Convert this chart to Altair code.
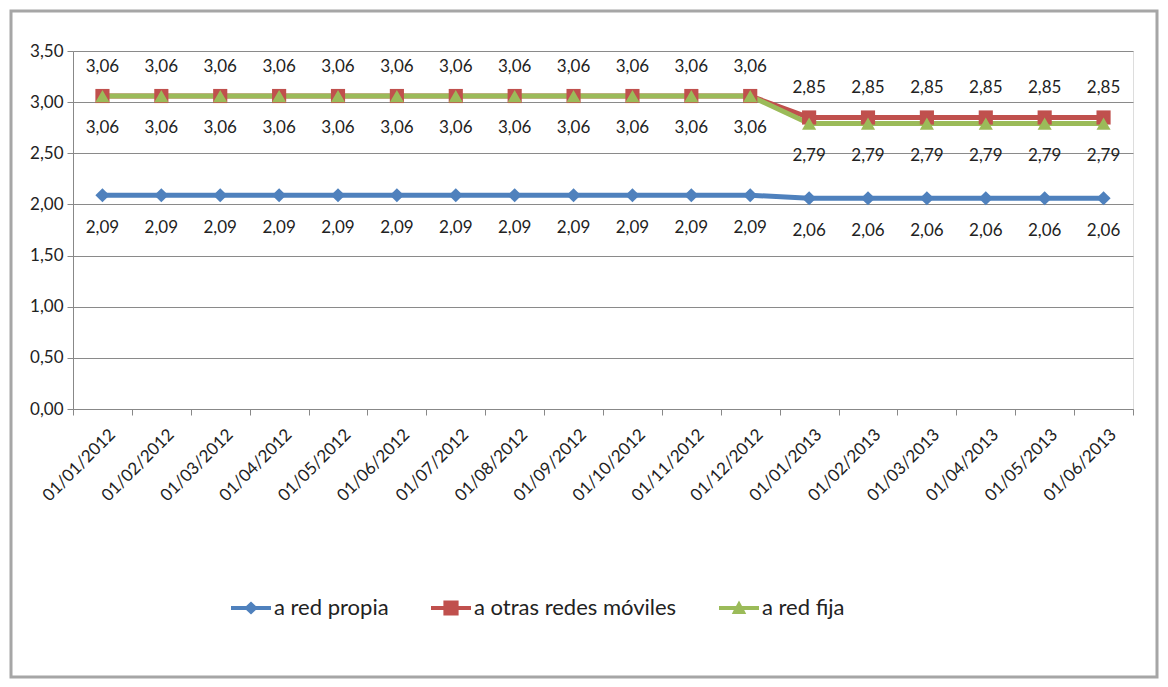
import altair as alt
import pandas as pd

fechas = ["01/01/2012", "01/02/2012", "01/03/2012", "01/04/2012", "01/05/2012", "01/06/2012",
          "01/07/2012", "01/08/2012", "01/09/2012", "01/10/2012", "01/11/2012", "01/12/2012",
          "01/01/2013", "01/02/2013", "01/03/2013", "01/04/2013", "01/05/2013", "01/06/2013"]
red_propia = [2.09, 2.09, 2.09, 2.09, 2.09, 2.09, 2.09, 2.09, 2.09, 2.09, 2.09, 2.09,
              2.06, 2.06, 2.06, 2.06, 2.06, 2.06]
otras_redes = [3.06, 3.06, 3.06, 3.06, 3.06, 3.06, 3.06, 3.06, 3.06, 3.06, 3.06, 3.06,
               2.85, 2.85, 2.85, 2.85, 2.85, 2.85]
red_fija = [3.06, 3.06, 3.06, 3.06, 3.06, 3.06, 3.06, 3.06, 3.06, 3.06, 3.06, 3.06,
            2.79, 2.79, 2.79, 2.79, 2.79, 2.79]
series = ["a red propia", "a otras redes móviles", "a red fija"]
colores = ["#4F81BD", "#C0504D", "#9BBB59"]
formas = ["diamond", "square", "triangle-up"]

# legend symbols: line segment with marker (unit coordinates)
legend_paths = [
    "M-1,-0.1L-0.24,-0.1L0,-0.33L0.24,-0.1L1,-0.1L1,0.1L0.24,0.1L0,0.33L-0.24,0.1L-1,0.1Z",
    "M-1,-0.1L-0.38,-0.1L-0.38,-0.38L0.38,-0.38L0.38,-0.1L1,-0.1L1,0.1L0.38,0.1L0.38,0.38L-0.38,0.38L-0.38,0.1L-1,0.1Z",
    "M-1,-0.1L-0.15,-0.1L0,-0.38L0.15,-0.1L1,-0.1L1,0.1L0.26,0.1L0.36,0.3L-0.36,0.3L-0.26,0.1L-1,0.1Z",
]

rows = []
for s, vals in zip(series, [red_propia, otras_redes, red_fija]):
    for f, v in zip(fechas, vals):
        rows.append({"fecha": f, "valor": v, "serie": s,
                     "etiqueta": f"{v:.2f}".replace(".", ",")})
df = pd.DataFrame(rows)

FONT = "Lato"
W, H = 1060, 358

x_enc = alt.X("fecha:N", sort=fechas, title=None,
              scale=alt.Scale(paddingInner=0, paddingOuter=0),
              axis=alt.Axis(labelAngle=-45, labelFontSize=17, labelFont=FONT, labelColor="#222",
                            tickBand="extent", tickSize=6, tickColor="#888", domainColor="#888",
                            labelPadding=11, labelOffset=4, grid=False))
y_enc = alt.Y("valor:Q", title=None,
              scale=alt.Scale(domain=[0, 3.5], nice=False),
              axis=alt.Axis(values=[0, 0.5, 1, 1.5, 2, 2.5, 3, 3.5],
                            labelExpr="replace(format(datum.value, '.2f'), '.', ',')",
                            labelFontSize=17, labelFont=FONT, labelColor="#222",
                            grid=True, gridColor="#8a8a8a", gridWidth=1,
                            tickColor="#888", domainColor="#888", tickSize=6, labelPadding=4))

legend = alt.Legend(title=None, orient="none", direction="horizontal",
                    legendX=158, legendY=537, labelFontSize=22, labelFont=FONT,
                    labelColor="#222", symbolSize=1600, columnPadding=42,
                    symbolStrokeWidth=0, labelOffset=3, labelLimit=0)
color_scale = alt.Scale(domain=series, range=colores)

base = alt.Chart(df)

frame = alt.Chart(pd.DataFrame({"k": [0]})).mark_rect(
    fillOpacity=0, stroke="#a6a6a6", strokeWidth=3
).encode(x=alt.value(-62), x2=alt.value(W + 24), y=alt.value(-40), y2=alt.value(H + 268))

lines_layers = []
for s in series:
    lines_layers.append(base.transform_filter(alt.datum.serie == s).mark_line(strokeWidth=5).encode(
        x=x_enc, y=y_enc,
        color=alt.Color("serie:N", scale=color_scale, legend=legend)))

point_layers = []
for s, f in zip(series, formas):
    point_layers.append(base.transform_filter(alt.datum.serie == s).mark_point(
        filled=True, size=200, opacity=1, shape=f, strokeWidth=0).encode(
        x=x_enc, y=y_enc,
        color=alt.Color("serie:N", scale=color_scale, legend=legend)))

legend_layer = base.transform_filter("false").mark_point(
    filled=True, opacity=1, strokeWidth=0).encode(
    x=x_enc, y=y_enc,
    color=alt.Color("serie:N", scale=color_scale, legend=legend),
    shape=alt.Shape("serie:N", scale=alt.Scale(domain=series, range=legend_paths), legend=legend))

offsets = {"a red propia": 33, "a otras redes móviles": -29, "a red fija": 32}
texts = []
for s in series:
    texts.append(base.transform_filter(alt.datum.serie == s).mark_text(
        dy=offsets[s], fontSize=17, font=FONT, color="#222").encode(
        x=x_enc, y=y_enc, text="etiqueta:N"))

chart = alt.layer(frame, *lines_layers, *point_layers, legend_layer, *texts).properties(
    width=W, height=H,
    autosize=alt.AutoSizeParams(type="none"),
    padding={"left": 65, "top": 43, "right": 27, "bottom": 271},
).configure_view(stroke=None, fill="#D9D9D9").configure(background="white")

chart.save("out.html", embed_options={"renderer": "svg", "actions": False})
